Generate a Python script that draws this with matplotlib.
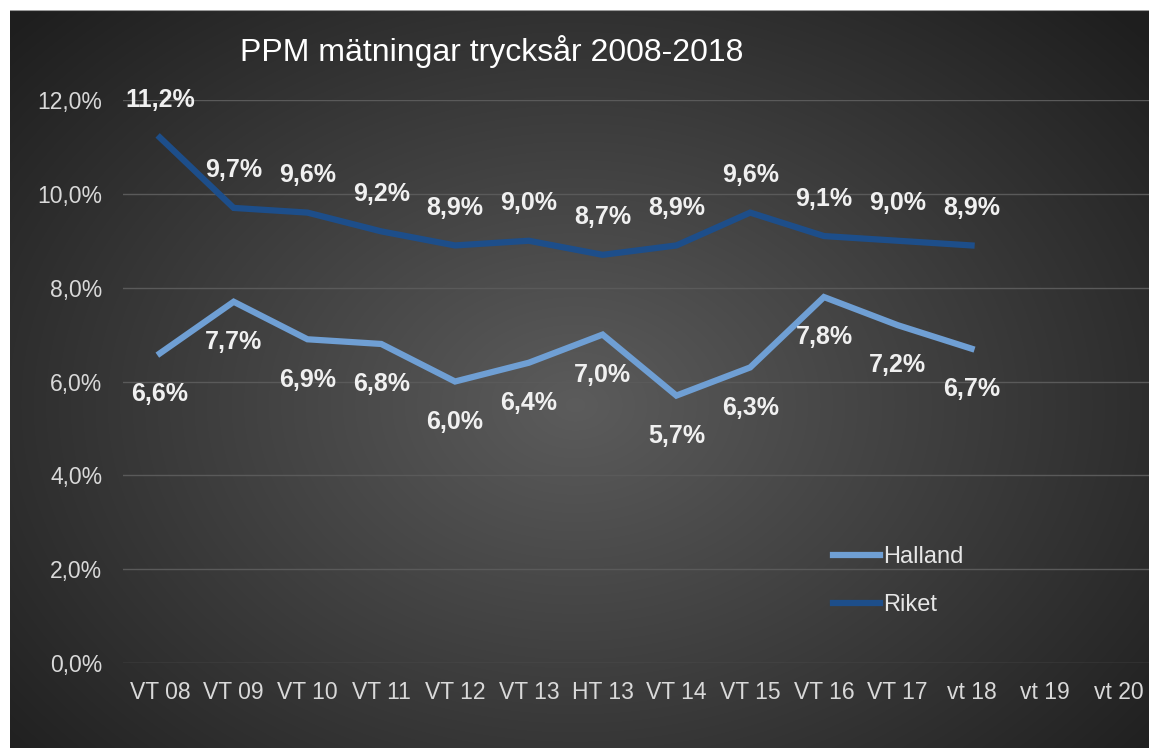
import matplotlib.pyplot as plt
import numpy as np

# chart data
categories = ['VT 08', 'VT 09', 'VT 10', 'VT 11', 'VT 12', 'VT 13', 'HT 13',
              'VT 14', 'VT 15', 'VT 16', 'VT 17', 'vt 18', 'vt 19', 'vt 20']
halland = [6.6, 7.7, 6.9, 6.8, 6.0, 6.4, 7.0, 5.7, 6.3, 7.8, 7.2, 6.7]
riket = [11.2, 9.7, 9.6, 9.2, 8.9, 9.0, 8.7, 8.9, 9.6, 9.1, 9.0, 8.9]
yticks = [0, 2, 4, 6, 8, 10, 12]

plt.rcParams['font.family'] = ['Liberation Sans', 'DejaVu Sans']

W, H = 1149, 748
fig = plt.figure(figsize=(W / 100, H / 100), dpi=100)
fig.patch.set_facecolor('white')

# dark radial gradient background (leaves a thin white frame top/left)
bg = fig.add_axes([10 / W, 0, 1 - 10 / W, 1 - 10 / H])
yy, xx = np.mgrid[0:H, 0:W]
r = np.sqrt(((xx - 570) / 700.0) ** 2 + ((yy - 400) / 520.0) ** 2)
g = np.clip(0.36 - 0.22 * r, 0.12, 0.4)
bg.imshow(np.dstack([g, g, g]), aspect='auto', extent=[0, 1, 0, 1])
bg.axhline(1, color='#9a9a9a', lw=1.5)
bg.set_axis_off()

ax = fig.add_axes([123 / W, 85 / H, 1033 / W, 563 / H])
ax.patch.set_alpha(0)
x = np.arange(len(categories))

ax.plot(x[:len(halland)], halland, color='#6f9fd4', lw=4.5, label='Halland',
        solid_joinstyle='miter', zorder=3)
ax.plot(x[:len(riket)], riket, color='#1d4e8a', lw=4.5, label='Riket',
        solid_joinstyle='miter', zorder=3)

for i, v in enumerate(riket):
    ax.annotate(f'{v:.1f}%'.replace('.', ','), (i, v), xytext=(0, 27),
                textcoords='offset points', ha='center', va='center',
                color='#f0f0f0', fontsize=18, fontweight='bold')
for i, v in enumerate(halland):
    ax.annotate(f'{v:.1f}%'.replace('.', ','), (i, v), xytext=(0, -29),
                textcoords='offset points', ha='center', va='center',
                color='#f0f0f0', fontsize=18, fontweight='bold')

ax.set_xlim(-0.5, len(categories) - 0.5)
ax.set_ylim(0, 12)
ax.set_xticks(x)
ax.set_xticklabels(categories)
ax.set_yticks(yticks)
ax.set_yticklabels([f'{t:.1f}%'.replace('.', ',') for t in yticks])
ax.tick_params(length=0, colors='#d9d9d9', labelsize=16.5)
ax.tick_params(axis='y', pad=15)
ax.tick_params(axis='x', pad=13)
ax.grid(axis='y', color='#5a5a5a', lw=1)
for s in ax.spines.values():
    s.set_visible(False)

fig.text(492 / W, 1 - 52 / H, 'PPM mätningar trycksår 2008-2018',
         ha='center', va='center', color='white', fontsize=23)

leg = ax.legend(loc='upper left', bbox_to_anchor=(689 / 1033, 1 - 425 / 563),
                frameon=False, fontsize=17, handlelength=2.0, handletextpad=0.1,
                labelspacing=1.1, labelcolor='#e6e6e6')

plt.savefig('out.png', dpi=100)
